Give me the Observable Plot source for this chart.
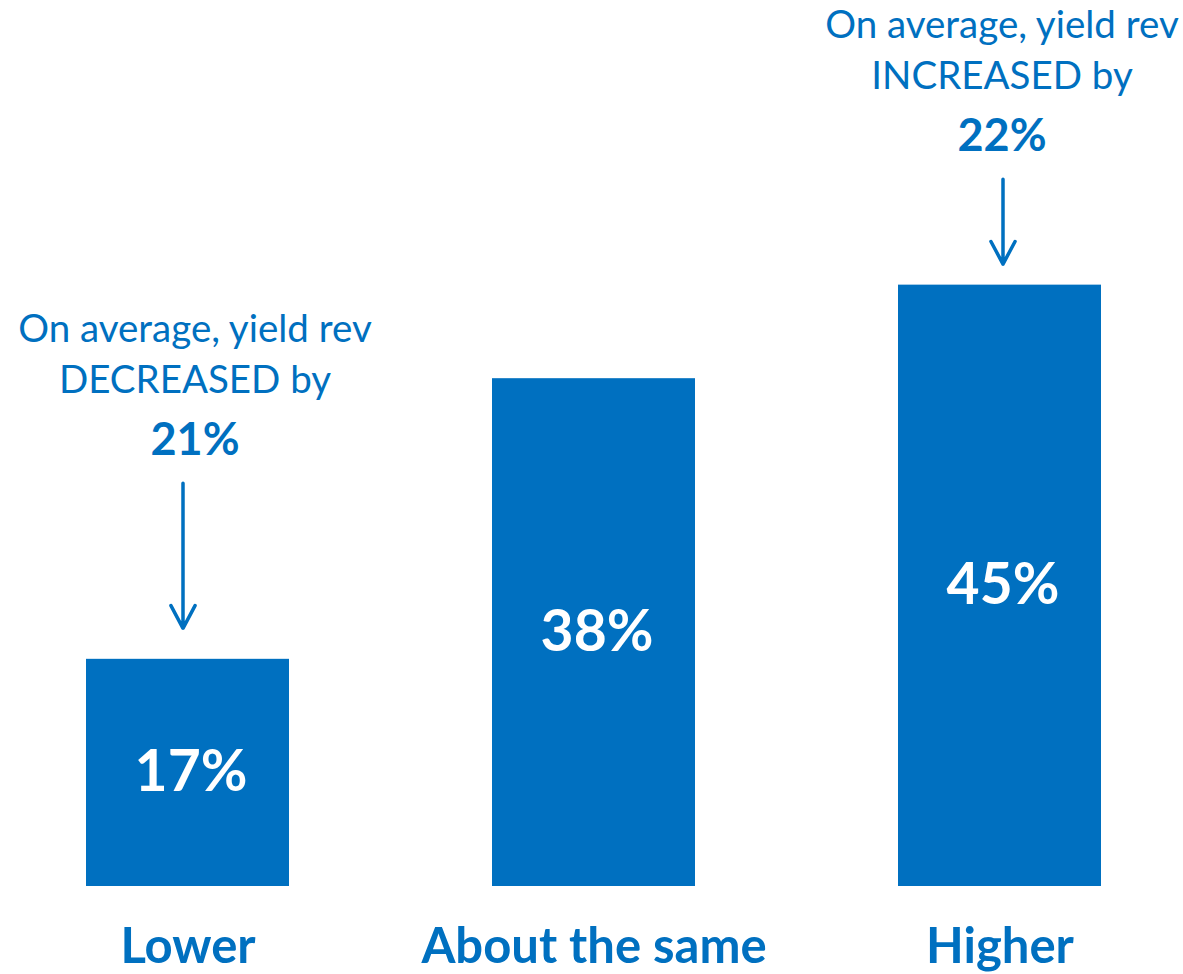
<!DOCTYPE html>
<html><head><meta charset="utf-8">
<script src="https://cdn.jsdelivr.net/npm/d3@7"></script>
<script src="https://cdn.jsdelivr.net/npm/@observablehq/plot@0.6"></script>
<style>html,body{margin:0;padding:0;background:#fff;overflow:hidden;}</style>
</head><body><div id="chart"></div>
<script>
// ---- data ----
const categories = ["Lower", "About the same", "Higher"];
const shares = [17, 38, 45];
const shareLabels = ["17%", "38%", "45%"];
const annotationCategories = ["Lower", "Higher"];
const annotationLine1 = ["On average, yield rev", "On average, yield rev"];
const annotationLine2 = ["DECREASED by", "INCREASED by"];
const annotationChange = ["21%", "22%"];

// ---- layout (pixels) ----
const W = 1183, H = 974, MT = 0, MB = 88;
const YMAX = 66.3;
const pxPerUnit = (H - MT - MB) / YMAX;
const annLayout = [
  {tipGap: 31, len: 145, arrowDx: -5, textDx: 7},
  {tipGap: 21, len: 85, arrowDx: 3, textDx: 2}
];
const BLUE = "#0070C0";
const FONT = "Lato, 'Open Sans', sans-serif";

const bars = categories.map((c, i) => ({category: c, value: shares[i], label: shareLabels[i]}));
const anns = annotationCategories.map((c, i) => {
  const v = shares[categories.indexOf(c)];
  const L = annLayout[i];
  return {
    category: c, value: v,
    line1: annotationLine1[i], line2: annotationLine2[i], change: annotationChange[i],
    tip: v + L.tipGap / pxPerUnit,
    start: v + (L.tipGap + L.len) / pxPerUnit,
    arrowDx: L.arrowDx, textDx: L.textDx
  };
});

const fsReg = 38.5, fsBold = 45, fsVal = 57, fsAxis = 49;
const chart = Plot.plot({
  width: W, height: H,
  marginTop: MT, marginBottom: MB, marginLeft: 4, marginRight: 1,
  style: {fontFamily: FONT, background: "white", overflow: "visible"},
  x: {domain: categories, paddingInner: 0.5, paddingOuter: 0.2, label: null},
  y: {domain: [0, YMAX], axis: null},
  marks: [
    Plot.barY(bars, {x: "category", y: "value", fill: BLUE}),
    Plot.text(bars, {x: "category", y: d => d.value / 2, text: "label", fill: "white",
      fontSize: fsVal, fontWeight: "bold", dx: 3}),
    Plot.axisX({tickSize: 0, tickPadding: 962 - 886 - 0.71 * fsAxis, fontSize: fsAxis,
      fontWeight: "bold", fill: BLUE, label: null}),
    ...anns.map(a => Plot.arrow([a], {x: "category", y1: "start", y2: "tip", stroke: BLUE,
      strokeWidth: 3.5, headLength: 11, headAngle: 56, dx: a.arrowDx})),
    ...anns.map(a => Plot.text([a], {x: "category", y: "start", text: "change", fill: BLUE,
      fontSize: fsBold, fontWeight: "bold", dx: a.textDx, dy: -28 - 0.32 * fsBold})),
    ...anns.map(a => Plot.text([a], {x: "category", y: "start", text: "line2", fill: BLUE,
      fontSize: fsReg, dx: a.textDx, dy: -90 - 0.32 * fsReg})),
    ...anns.map(a => Plot.text([a], {x: "category", y: "start", text: "line1", fill: BLUE,
      fontSize: fsReg, dx: a.textDx, dy: -141 - 0.32 * fsReg}))
  ]
});
document.getElementById("chart").appendChild(chart);
</script>
</body></html>
